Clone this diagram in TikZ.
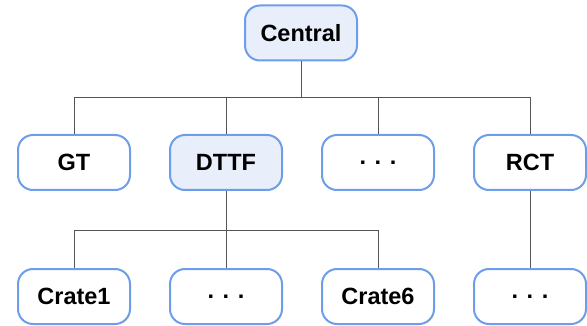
\documentclass[tikz,border=0pt]{standalone}
\usepackage{fontspec}
\setmainfont{Liberation Sans}
\definecolor{boxblue}{RGB}{109,158,235}
\definecolor{boxfill}{RGB}{232,238,250}
\definecolor{linegray}{RGB}{85,85,85}
\tikzset{
  unit/.style={shape=rectangle, rounded corners=15pt, draw=boxblue, line width=2pt,
    fill=white, minimum width=112pt, minimum height=55pt,
    font=\fontsize{23.5}{28}\selectfont\bfseries},
  active/.style={unit, fill=boxfill},
  conn/.style={draw=linegray, line width=0.8pt}
}
\begin{document}
\begin{tikzpicture}[x=1pt, y=-1pt]
\useasboundingbox (0,0) rectangle (587,326);
\node[active] (central) at (301,33) {Central};
\node[unit] (gt) at (74,162.5) {GT};
\node[active] (dttf) at (226,162.5) {DTTF};
\node[unit] (mid) at (378,162.5) {. . .};
\node[unit] (rct) at (530,162.5) {RCT};
\node[unit] (crate1) at (74,296.5) {Crate1};
\node[unit] (crates) at (226,296.5) {. . .};
\node[unit] (crate6) at (378,296.5) {Crate6};
\node[unit] (rctsub) at (530,296.5) {. . .};
\coordinate (top bus) at (301,97);
\coordinate (dttf bus) at (226,230);
\path [conn] (central.south) -- (top bus);
\path [conn] (gt.north) |- (top bus);
\path [conn] (dttf.north) |- (top bus);
\path [conn] (mid.north) |- (top bus);
\path [conn] (rct.north) |- (top bus);
\path [conn] (dttf.south) -- (dttf bus);
\path [conn] (crate1.north) |- (dttf bus);
\path [conn] (crates.north) |- (dttf bus);
\path [conn] (crate6.north) |- (dttf bus);
\path [conn] (rct.south) -- (rctsub.north);
\end{tikzpicture}
\end{document}
